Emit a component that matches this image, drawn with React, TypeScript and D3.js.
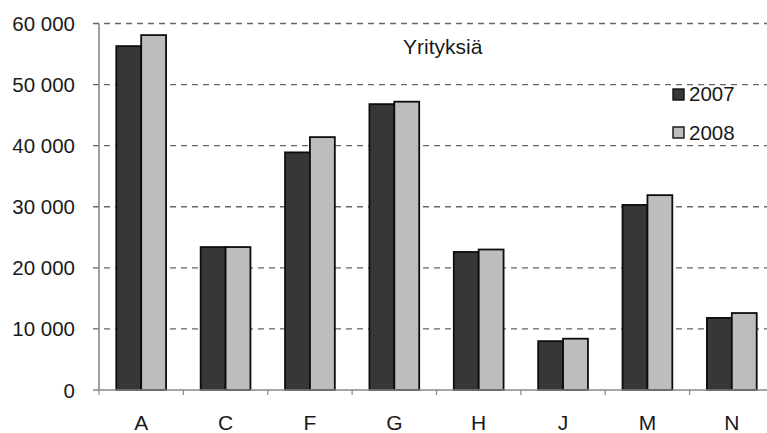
import React from "react";
import * as d3 from "d3";

const categories = ["A", "C", "F", "G", "H", "J", "M", "N"];
const series = ["2007", "2008"];
const values2007 = [56300, 23400, 38900, 46800, 22600, 8000, 30300, 11800];
const values2008 = [58100, 23400, 41400, 47200, 23000, 8400, 31900, 12600];
const yTicks = [0, 10000, 20000, 30000, 40000, 50000, 60000];
const title = "Yrityksiä";

const W = 767;
const H = 433;
const left = 99;
const right = 774;
const top = 23.5;
const bottom = 390;

const fills: Record<string, string> = { "2007": "#373737", "2008": "#bdbdbd" };

export default function App() {
  const y = d3.scaleLinear().domain([0, 60000]).range([bottom, top]);
  const x = d3.scaleBand<string>().domain(categories).range([left, right]).paddingInner(0.41).paddingOuter(0.205);
  const xs = d3.scaleBand<string>().domain(series).range([0, x.bandwidth()]);
  const step = x.step();
  const fmt = (v: number) => d3.format(",")(v).replace(/,/g, " ");
  const data: Record<string, number[]> = { "2007": values2007, "2008": values2008 };
  const font = "'Liberation Sans', Arial, sans-serif";

  return (
    <svg width={W} height={H} style={{ position: "absolute", left: 0, top: 0, background: "#fff" }} fontFamily={font}>
      {yTicks.filter((t) => t > 0).map((t) => (
        <line key={"g" + t} x1={93} x2={W} y1={y(t)} y2={y(t)} stroke="#666" strokeWidth={1.3} strokeDasharray="6,5" />
      ))}
      {yTicks.map((t) => (
        <text key={"yl" + t} x={75} y={y(t) + 7.5} textAnchor="end" fontSize={20.5} fill="#1a1a1a">
          {fmt(t)}
        </text>
      ))}
      {categories.map((c, i) =>
        series.map((s) => {
          const v = data[s][i];
          return (
            <rect
              key={c + s}
              x={(x(c) as number) + (xs(s) as number)}
              y={y(v)}
              width={xs.bandwidth()}
              height={bottom - y(v)}
              fill={fills[s]}
              stroke="#0d0d0d"
              strokeWidth={1.8}
            />
          );
        })
      )}
      <line x1={left} x2={left} y1={top} y2={bottom} stroke="#888" strokeWidth={1.6} />
      <line x1={93} x2={W} y1={bottom} y2={bottom} stroke="#888" strokeWidth={1.6} />
      {categories.map((c, i) => {
        const bx = left + i * step;
        return <line key={"t" + c} x1={bx} x2={bx} y1={bottom} y2={bottom + 5} stroke="#888" strokeWidth={1.2} />;
      })}
      {categories.map((c) => (
        <text key={"xl" + c} x={(x(c) as number) + x.bandwidth() / 2} y={430} textAnchor="middle" fontSize={21} fill="#1a1a1a">
          {c}
        </text>
      ))}
      <text x={403} y={54} fontSize={21} fill="#1a1a1a">
        {title}
      </text>
      {series.map((s, i) => (
        <g key={"lg" + s}>
          <rect x={673} y={89 + i * 38} width={11} height={11} fill={fills[s]} stroke="#111" strokeWidth={1.4} />
          <text x={689} y={101 + i * 38.5} fontSize={20.5} fill="#1a1a1a">
            {s}
          </text>
        </g>
      ))}
    </svg>
  );
}
